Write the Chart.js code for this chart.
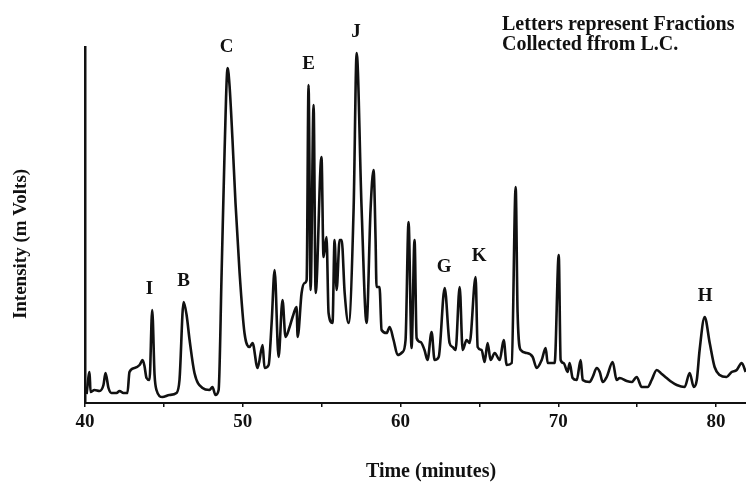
<!DOCTYPE html>
<html>
<head>
<meta charset="utf-8">
<script src="https://cdn.jsdelivr.net/npm/chart.js@4/dist/chart.umd.min.js"></script>
<style>
  html, body { margin: 0; padding: 0; background: #fff; }
  canvas { display: block; }
</style>
</head>
<body>
<canvas id="chrom" width="746" height="483"></canvas>
<script>
// Retention time (minutes) of each sampled point of the detector trace
const times = [
  40.10, 40.29, 40.35, 40.60, 40.92, 41.17, 41.30, 41.49, 41.68, 42.00,
  42.19, 42.44, 42.69, 42.82, 43.14, 43.46, 43.65, 43.77, 43.90, 44.09,
  44.26, 44.41, 44.53, 44.91, 45.35, 45.80, 45.99, 46.25, 46.44, 46.63,
  46.94, 47.45, 47.89, 48.08, 48.27, 48.47, 48.66, 48.85, 49.04, 49.16,
  49.35, 49.54, 49.80, 50.11, 50.43, 50.62, 50.94, 51.26, 51.38, 51.64,
  51.83, 52.02, 52.27, 52.52, 52.71, 52.97, 53.16, 53.41, 53.48, 53.73,
  53.92, 54.05, 54.17, 54.30, 54.49, 54.62, 54.99, 55.12, 55.31, 55.44,
  55.69, 55.82, 55.95, 56.14, 56.27, 56.46, 56.71, 57.03, 57.22, 57.53,
  57.85, 58.10, 58.29, 58.42, 58.48, 58.67, 58.80, 59.12, 59.31, 59.56,
  59.82, 60.13, 60.32, 60.51, 60.70, 60.89, 61.02, 61.27, 61.52, 61.71,
  61.97, 62.16, 62.42, 62.80, 63.11, 63.30, 63.49, 63.75, 63.94, 64.19,
  64.38, 64.76, 64.89, 65.14, 65.33, 65.52, 65.71, 65.97, 66.29, 66.54,
  66.73, 67.05, 67.30, 67.42, 67.62, 68.00, 68.38, 68.63, 68.95, 69.20,
  69.33, 69.77, 70.03, 70.15, 70.34, 70.59, 70.72, 70.91, 71.17, 71.42,
  71.55, 71.99, 72.18, 72.44, 72.63, 72.82, 73.07, 73.45, 73.70, 73.89,
  74.34, 74.66, 74.97, 75.29, 75.67, 75.92, 76.24, 76.56, 76.87, 77.19,
  77.51, 78.01, 78.33, 78.59, 78.78, 78.96, 79.28, 79.60, 79.91, 80.23,
  80.67, 80.99, 81.31, 81.63, 81.88
];

// Detector response (mV) at each of those times
const intensity = [
    9,  31,  11,  13,  12,  18,  30,  15,  10,  10,
   12,  10,  10,  31,  35,  38,  43,  37,  25,  23,
   93,  28,  13,   6,   8,  10,  23, 101,  88,  63,
   30,  15,  13,  16,   8,  13, 130, 253, 335, 318,
  263, 200, 130,  70,  56,  60,  35,  58,  35,  38,
   80, 133,  46, 103,  66,  76,  86,  96,  66, 110,
  120, 123, 318, 113, 298, 110, 246, 146, 166,  90,
   80, 163, 113, 163, 163, 110,  80, 196, 350, 196,
   80, 193, 233, 163, 116, 116,  73,  70,  76,  63,
   48,  51,  63, 181,  55, 163,  65,  61,  53,  43,
   71,  43,  46, 115,  60,  56,  53, 116,  53,  63,
   60, 126,  56,  53,  41,  60,  43,  50,  43,  63,
   38,  40, 216,  91,  53,  50,  46,  35,  43,  55,
   40,  40, 148,  43,  40,  31,  40,  25,  23,  43,
   23,  21,  26,  35,  31,  21,  26,  41,  23,  25,
   22,  21,  26,  16,  16,  23,  33,  29,  25,  21,
   18,  16,  30,  16,  23,  53,  86,  60,  36,  28,
   26,  31,  33,  40,  31
];

// Collected L.C. fractions and the retention time each letter sits over
const fractionLetters = ['I', 'B', 'C', 'E', 'J', 'G', 'K', 'H'];
const fractionTimes   = [44.09, 46.25, 48.97, 54.17, 57.18, 62.76, 64.98, 79.31];

// Time axis ticks: marks every 5 min, numbers every 10 min
const tickValues = [40, 45, 50, 55, 60, 65, 70, 75, 80];
const tickLabels = ['40', '', '50', '', '60', '', '70', '', '80'];

const noteLines = ['Letters represent Fractions', 'Collected ffrom L.C.'];
const xTitle = 'Time (minutes)';
const yTitle = 'Intensity (m Volts)';

const INK = '#111';
const SERIF = '"Liberation Serif", "Times New Roman", serif';

// Letters above their peaks, the note in the corner and both axis titles
const annotate = {
  id: 'annotate',
  afterDraw(chart) {
    const { ctx, scales: { x, y } } = chart;
    ctx.save();
    ctx.fillStyle = INK;
    ctx.font = 'bold 19px ' + SERIF;
    ctx.textAlign = 'center';
    ctx.textBaseline = 'alphabetic';

    fractionLetters.forEach((letter, i) => {
      const t0 = fractionTimes[i];
      let apex = 0;
      times.forEach((t, j) => {
        if (Math.abs(t - t0) <= 0.4 && intensity[j] > apex) apex = intensity[j];
      });
      ctx.fillText(letter, x.getPixelForValue(t0), y.getPixelForValue(apex) - 16);
    });

    ctx.font = 'bold 20px ' + SERIF;
    ctx.textAlign = 'left';
    ctx.fillText(noteLines[0], 502, 30);
    ctx.fillText(noteLines[1], 502, 50);

    ctx.textAlign = 'center';
    ctx.fillText(xTitle, 431, 477);

    ctx.font = 'bold 19px ' + SERIF;
    ctx.translate(26, 244);
    ctx.rotate(-Math.PI / 2);
    ctx.fillText(yTitle, 0, 0);
    ctx.restore();
  }
};

new Chart(document.getElementById('chrom').getContext('2d'), {
  type: 'line',
  data: {
    datasets: [{
      data: times.map((t, i) => ({ x: t, y: intensity[i] })),
      borderColor: INK,
      borderWidth: 2.6,
      borderJoinStyle: 'round',
      pointRadius: 0,
      fill: false,
      cubicInterpolationMode: 'monotone'
    }]
  },
  options: {
    responsive: false,
    animation: false,
    devicePixelRatio: 1,
    layout: { padding: { left: 85, top: 47, right: 0, bottom: 0 } },
    plugins: { legend: { display: false }, tooltip: { enabled: false } },
    scales: {
      x: {
        type: 'linear',
        min: 40,
        max: 81.9,
        afterFit: (s) => { s.height = 80; },
        afterBuildTicks: (s) => { s.ticks = tickValues.map(v => ({ value: v })); },
        grid: { drawOnChartArea: false, drawTicks: true, tickLength: 4, color: INK, lineWidth: 1.5 },
        border: { display: true, color: INK, width: 2 },
        ticks: {
          autoSkip: false,
          maxRotation: 0,
          padding: 4,
          color: INK,
          font: { family: SERIF, weight: 'bold', size: 19 },
          callback: (v, i) => tickLabels[i]
        }
      },
      y: {
        min: 0,
        max: 356,
        afterFit: (s) => { s.width = 0; },
        grid: { display: false },
        ticks: { display: false },
        border: { display: true, color: INK, width: 2.5 }
      }
    }
  },
  plugins: [annotate]
});
</script>
</body>
</html>
